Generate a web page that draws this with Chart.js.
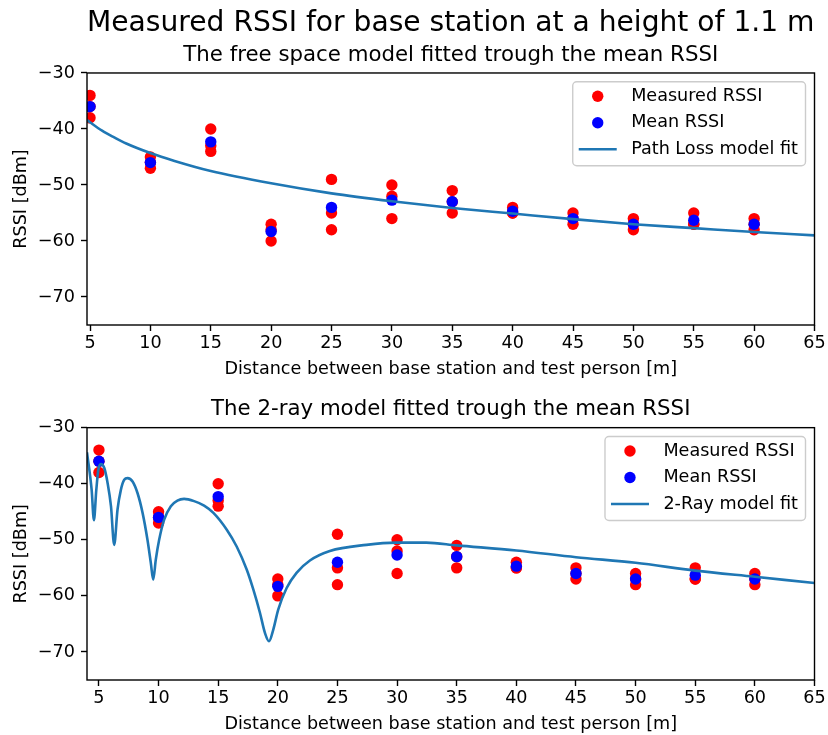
<!DOCTYPE html>
<html>
<head>
<meta charset="utf-8">
<script src="https://cdn.jsdelivr.net/npm/chart.js@4.4.1/dist/chart.umd.min.js"></script>
<style>
html, body { margin: 0; padding: 0; background: #ffffff; }
#wrap { position: relative; width: 828px; height: 735px; overflow: hidden; background: #ffffff; }
canvas { position: absolute; left: 0; }
#c1 { top: 0; width: 828px; height: 385px; }
#c2 { top: 385px; width: 828px; height: 350px; }
</style>
</head>
<body>
<div id="wrap">
  <canvas id="c1" width="828" height="385"></canvas>
  <canvas id="c2" width="828" height="350"></canvas>
</div>
<script>
// ---------------- data ----------------
const distances = [5, 10, 15, 20, 25, 30, 35, 40, 45, 50, 55, 60];
const measuredA = [-34, -45, -40, -57, -49, -50, -51, -54, -55, -56, -55, -56];
const measuredB = [-36, -46, -43, -58, -55, -52, -53, -55, -56, -57, -57, -57];
const measuredC = [-38, -47, -44, -60, -58, -56, -55, -55, -57, -58, -57, -58];
const meanRssi  = [-36, -46, -42.3, -58.3, -54, -52.7, -53, -54.7, -56, -57, -56.3, -57];

const pathLossX = [4.75, 5, 6, 7, 8, 10, 12, 15, 20, 25, 30, 35, 40, 45, 50, 55, 60, 65];
const pathLossY = [-38.4, -38.8, -40.3, -41.5, -42.6, -44.3, -45.7, -47.5, -49.7, -51.5, -52.9, -54.1, -55.1, -56.1, -57.0, -57.7, -58.4, -59.0];

const twoRayX = [4.0, 4.39, 4.58, 4.78, 4.95, 5.17, 5.45, 5.73, 6.01, 6.28, 6.56, 6.84, 7.12, 7.40, 7.82, 8.24, 8.66, 9.07, 9.35, 9.55, 9.77, 10.05, 10.47, 11.03, 11.58, 12.14, 12.98, 13.82, 14.6, 15.72, 16.55, 17.39, 17.95, 18.5, 18.92, 19.26, 19.62, 20.04, 20.74, 21.57, 22.69, 24.36, 27.43, 29.9, 32.45, 35.0, 40.0, 45.0, 50.0, 55.0, 60.0, 65.0];
const twoRayY = [-34.4, -41.1, -46.5, -41.1, -37.5, -36.5, -37.2, -39.9, -44.0, -50.9, -44.6, -41.1, -39.3, -39.0, -39.6, -41.7, -45.2, -50.0, -54.1, -57.1, -53.5, -50.0, -46.4, -44.0, -43.0, -42.7, -43.1, -43.9, -45.2, -48.2, -51.2, -55.3, -58.9, -63.0, -66.6, -68.1, -66.0, -62.4, -58.6, -55.9, -53.7, -52.0, -50.9, -50.5, -50.5, -51.0, -51.9, -53.1, -54.1, -55.5, -56.6, -57.7];

const xTicks = [5, 10, 15, 20, 25, 30, 35, 40, 45, 50, 55, 60, 65];
const yTicks = [-70, -60, -50, -40, -30];

const suptitleText = 'Measured RSSI for base station at a height of 1.1 m';
const topTitleText = 'The free space model fitted trough the mean RSSI';
const bottomTitleText = 'The 2-ray model fitted trough the mean RSSI';
const xLabelText = 'Distance between base station and test person [m]';
const yLabelText = 'RSSI [dBm]';

// ---------------- style ----------------
const BASE = 17.6;
const FAMILY = '"DejaVu Sans", "Liberation Sans", sans-serif';
Chart.defaults.font.family = FAMILY;
Chart.defaults.font.size = BASE;
Chart.defaults.color = '#000000';

const measuredPoints = distances.flatMap((d, i) => [
  { x: d, y: measuredA[i] }, { x: d, y: measuredB[i] }, { x: d, y: measuredC[i] }
]);
const meanPoints = distances.map((d, i) => ({ x: d, y: meanRssi[i] }));
const toXY = (xs, ys) => xs.map((x, i) => ({ x: x, y: ys[i] }));

const frameAndLegend = {
  id: 'frameAndLegend',
  afterDatasetsDraw(chart) {
    const ctx = chart.ctx, a = chart.chartArea;
    ctx.save();
    // spines
    ctx.strokeStyle = '#000000';
    ctx.lineWidth = 1.4;
    ctx.strokeRect(a.left, a.top, a.right - a.left, a.bottom - a.top);
    // legend
    ctx.font = BASE + 'px ' + FAMILY;
    const items = chart.data.datasets;
    let tw = 0;
    items.forEach(d => { tw = Math.max(tw, ctx.measureText(d.label).width); });
    const w = tw + 66, h = 84;
    const x = a.right - 9 - w, y = a.top + 8.8, r = 4;
    ctx.beginPath();
    ctx.moveTo(x + r, y);
    ctx.arcTo(x + w, y, x + w, y + h, r);
    ctx.arcTo(x + w, y + h, x, y + h, r);
    ctx.arcTo(x, y + h, x, y, r);
    ctx.arcTo(x, y, x + w, y, r);
    ctx.closePath();
    ctx.fillStyle = 'rgba(255,255,255,0.8)';
    ctx.fill();
    ctx.strokeStyle = '#cccccc';
    ctx.lineWidth = 1.4;
    ctx.stroke();
    items.forEach((d, i) => {
      const cy = y + 14.5 + i * 26.5;
      if (d.type === 'line') {
        ctx.strokeStyle = d.borderColor;
        ctx.lineWidth = d.borderWidth;
        ctx.beginPath();
        ctx.moveTo(x + 6, cy);
        ctx.lineTo(x + 44, cy);
        ctx.stroke();
      } else {
        ctx.fillStyle = d.backgroundColor;
        ctx.beginPath();
        ctx.arc(x + 25, cy, d.pointRadius, 0, Math.PI * 2);
        ctx.fill();
      }
      ctx.fillStyle = '#000000';
      ctx.textAlign = 'left';
      ctx.textBaseline = 'middle';
      ctx.fillText(d.label, x + 58.4, cy);
    });
    ctx.restore();
  }
};

function makeScales(xMin, xAxisHeight, xTitleBottom) {
  const tickGrid = { display: true, drawOnChartArea: false, drawTicks: true, tickLength: 6, tickColor: '#000000', tickWidth: 1.4 };
  return {
    x: {
      type: 'linear', min: xMin, max: 65,
      afterBuildTicks: s => { s.ticks = xTicks.map(v => ({ value: v })); },
      ticks: { callback: v => String(v), padding: 2.3, maxRotation: 0, autoSkip: false, color: '#000000' },
      grid: tickGrid,
      border: { display: false },
      title: { display: true, text: xLabelText, color: '#000000', padding: { top: 0, bottom: xTitleBottom } },
      afterFit: s => { s.height = xAxisHeight; }
    },
    y: {
      type: 'linear', min: -75, max: -30,
      afterBuildTicks: s => { s.ticks = yTicks.map(v => ({ value: v })); },
      ticks: { callback: v => String(v).replace('-', '\u2212'), padding: 6, color: '#000000' },
      grid: tickGrid,
      border: { display: false },
      title: { display: true, text: yLabelText, color: '#000000', padding: { top: 10.4, bottom: 0 } },
      afterFit: s => { s.width = 87; }
    }
  };
}

function makeDatasets(curveLabel, curveX, curveY) {
  return [
    { type: 'scatter', label: 'Measured RSSI', data: measuredPoints, backgroundColor: '#ff0000', pointBackgroundColor: '#ff0000', pointBorderWidth: 0, pointRadius: 5.7, order: 2, clip: 0 },
    { type: 'scatter', label: 'Mean RSSI', data: meanPoints, backgroundColor: '#0000ff', pointBackgroundColor: '#0000ff', pointBorderWidth: 0, pointRadius: 5.7, order: 1, clip: 0 },
    { type: 'line', label: curveLabel, data: toXY(curveX, curveY), borderColor: '#1f77b4', borderWidth: 2.6, pointRadius: 0, fill: false, cubicInterpolationMode: 'monotone', order: 0, clip: 0 }
  ];
}

const common = {
  responsive: false, animation: false, devicePixelRatio: 1,
  layout: { padding: { left: 0, right: 11, top: 0, bottom: 0 } }
};

new Chart(document.getElementById('c1'), {
  type: 'scatter',
  data: { datasets: makeDatasets('Path Loss model fit', pathLossX, pathLossY) },
  options: Object.assign({}, common, {
    scales: makeScales(4.75, 60, 5.4),
    plugins: {
      legend: { display: false }, tooltip: { enabled: false },
      title: { display: true, text: suptitleText, fullSize: false, color: '#000000', font: { size: 28.6, weight: 'normal' }, padding: { top: 6.8, bottom: 0 } },
      subtitle: { display: true, text: topTitleText, fullSize: false, color: '#000000', font: { size: 21.3, weight: 'normal' }, padding: { top: 1.6, bottom: 4.7 } }
    }
  }),
  plugins: [frameAndLegend]
});

new Chart(document.getElementById('c2'), {
  type: 'scatter',
  data: { datasets: makeDatasets('2-Ray model fit', twoRayX, twoRayY) },
  options: Object.assign({}, common, {
    scales: makeScales(4, 55, 0.4),
    plugins: {
      legend: { display: false }, tooltip: { enabled: false },
      title: { display: true, text: bottomTitleText, fullSize: false, color: '#000000', font: { size: 21.3, weight: 'normal' }, padding: { top: 12.1, bottom: 5 } }
    }
  }),
  plugins: [frameAndLegend]
});
</script>
</body>
</html>
